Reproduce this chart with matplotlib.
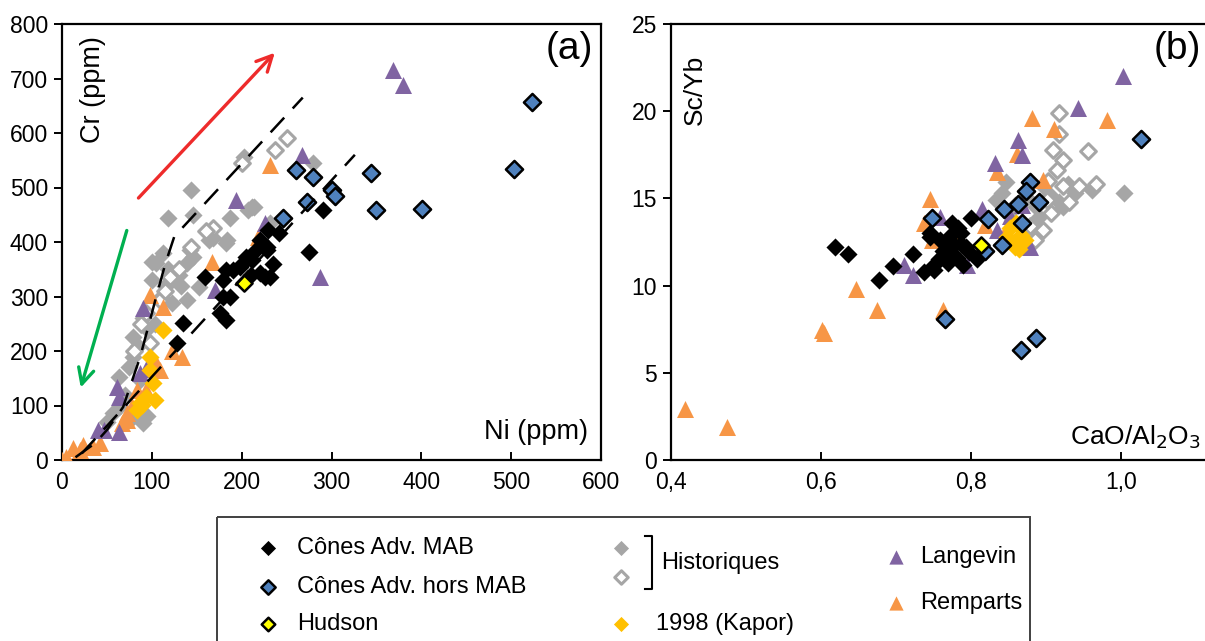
import matplotlib.pyplot as plt
from matplotlib.patches import Rectangle
import numpy as np

plt.rcParams['font.family'] = ['Liberation Sans', 'DejaVu Sans']

# ---- colours
C_MAB = '#000000'
C_HORS = '#4F81BD'
C_HUDSON = '#FFFF00'
C_HIST = '#A6A6A6'
C_KAPOR = '#FFC000'
C_LANG = '#8064A2'
C_REMP = '#F79646'

# ---- panel (a): Ni vs Cr (ppm)
mab_ni = [275, 290, 226, 159, 179, 176, 183, 198, 212, 228, 231, 220, 242, 135, 128, 190, 187,
          205, 216, 228, 229, 220, 179, 183, 200, 210, 235]
mab_cr = [382, 459, 336, 336, 330, 270, 257, 354, 367, 385, 336, 404, 416, 251, 215, 349, 300,
          373, 385, 391, 422, 343, 300, 349, 360, 340, 360]
hors_ni = [523, 503, 401, 349, 344, 261, 279, 301, 304, 273, 246]
hors_cr = [657, 534, 461, 459, 526, 532, 519, 495, 485, 473, 444]
hudson_ni = [203]
hudson_cr = [325]
hist_ni = [144, 118, 146, 187, 203, 212, 184, 168, 279, 207, 214, 231, 164, 139, 146, 112, 100, 123,
           105, 153, 123, 79, 79, 87, 64, 79, 90, 57, 139, 142, 183, 85, 95, 110, 130, 70, 75, 90,
           100, 115, 118, 85, 95, 50, 65, 103, 133]
hist_cr = [495, 444, 450, 444, 556, 464, 404, 407, 545, 459, 464, 435, 404, 361, 373, 380, 363, 330,
           361, 317, 288, 226, 189, 147, 152, 79, 68, 86, 294, 385, 398, 210, 240, 300, 340, 120, 170,
           260, 330, 320, 350, 90, 80, 70, 100, 250, 320]
histo_ni = [200, 237, 250, 168, 144, 120, 94, 98, 109, 130, 115, 88, 80, 160]
histo_cr = [545, 569, 591, 425, 391, 336, 270, 215, 294, 350, 310, 250, 200, 420]
kapor_ni = [112, 98, 101, 94, 87, 83, 98, 89, 104]
kapor_cr = [238, 189, 141, 116, 104, 92, 165, 101, 110]
lang_ni = [369, 380, 267, 287, 194, 226, 170, 90, 94, 87, 61, 64, 40, 47, 63]
lang_cr = [716, 688, 560, 336, 477, 435, 312, 278, 167, 159, 134, 116, 55, 55, 52]
remp_ni = [231, 218, 167, 98, 112, 123, 134, 109, 72, 35, 20, 5, 0, 42, 83, 72, 67, 12, 23, 105, 94, 78]
remp_cr = [541, 409, 363, 303, 281, 200, 189, 165, 73, 24, 18, 6, 0, 31, 128, 86, 68, 22, 28, 178, 128, 100]

# dashed trend curves
upper_ni = [15, 37, 50, 68, 87, 104, 115, 125, 268]
upper_cr = [5, 31, 55, 97, 189, 294, 360, 410, 665]
lower_ni = [22, 326]
lower_cr = [12, 560]

# arrows (Ni, Cr): start -> end
red_arrow = [(83, 477), (239, 751)]
green_arrow = [(73, 426), (20, 128)]

# ---- panel (b): CaO/Al2O3 vs Sc/Yb
mab_ca = [0.619, 0.636, 0.677, 0.696, 0.722, 0.737, 0.750, 0.769, 0.789, 0.797, 0.745, 0.770, 0.745,
          0.775, 0.800, 0.786, 0.758, 0.763, 0.777, 0.769, 0.787, 0.757, 0.781, 0.773, 0.793, 0.765,
          0.808, 0.751, 0.783]
mab_sc = [12.2, 11.8, 10.3, 11.1, 11.8, 10.8, 10.9, 11.3, 11.2, 11.9, 12.8, 12.6, 13.0, 13.6, 13.9,
          13.0, 12.6, 12.0, 12.3, 11.7, 12.4, 11.5, 11.6, 12.9, 12.2, 12.0, 11.5, 11.2, 13.3]
hors_ca = [1.026, 0.878, 0.873, 0.891, 0.862, 0.844, 0.868, 0.822, 0.748, 0.841, 0.819, 0.765, 0.866, 0.886]
hors_sc = [18.4, 15.95, 15.4, 14.8, 14.7, 14.4, 13.6, 13.8, 13.85, 12.35, 12.0, 8.1, 6.3, 7.0]
hudson_ca = [0.813]
hudson_sc = [12.3]
kapor_ca = [0.852, 0.860, 0.867, 0.856, 0.864, 0.872, 0.848, 0.858]
kapor_sc = [13.3, 13.6, 12.9, 12.4, 12.1, 12.6, 12.8, 12.2]
lang_ca = [1.002, 0.942, 0.862, 0.868, 0.832, 0.814, 0.835, 0.868, 0.758, 0.710, 0.723, 0.794, 0.878, 0.852]
lang_sc = [22.0, 20.2, 18.35, 17.5, 17.05, 14.4, 13.2, 14.6, 13.95, 11.2, 10.6, 11.2, 12.2, 14.0]
remp_ca = [0.881, 0.981, 0.910, 0.861, 0.835, 0.896, 0.745, 0.737, 0.819, 0.419, 0.475, 0.604, 0.601,
           0.646, 0.675, 0.763, 0.748, 0.781, 0.846]
remp_sc = [19.6, 19.5, 19.0, 17.55, 16.5, 16.05, 14.95, 13.6, 13.5, 2.9, 1.9, 7.3, 7.45, 9.8, 8.6, 8.6,
           12.6, 13.0, 13.2]
hist_ca = [0.846, 0.841, 0.833, 0.896, 1.004, 0.961, 0.939, 0.923, 0.890, 0.858, 0.875, 0.905, 0.917,
           0.852, 0.929, 0.887]
hist_sc = [15.95, 15.3, 14.9, 15.7, 15.3, 15.5, 15.3, 14.5, 13.95, 14.6, 15.0, 15.2, 14.8, 14.2, 15.8, 14.5]
histo_ca = [0.917, 0.917, 0.909, 0.923, 0.956, 0.914, 0.923, 0.944, 0.966, 0.901, 0.931, 0.906, 0.879,
            0.896, 0.885, 0.902]
histo_sc = [19.9, 18.7, 17.8, 17.2, 17.7, 16.6, 15.7, 15.7, 15.85, 14.9, 14.8, 14.15, 13.4, 13.2, 12.6, 16.0]

a_xticks = [0, 100, 200, 300, 400, 500, 600]
a_yticks = [0, 100, 200, 300, 400, 500, 600, 700, 800]
b_xticks = [0.4, 0.6, 0.8, 1.0]
b_xlabels = ['0,4', '0,6', '0,8', '1,0']
b_yticks = [0, 5, 10, 15, 20, 25]

DIA = 85
TRI = 150


def draw_groups(ax, groups):
    for xs, ys, style in groups:
        ax.scatter(xs, ys, **style)


S_HIST = dict(marker='D', s=DIA, color=C_HIST, linewidths=0, zorder=2)
S_HISTO = dict(marker='D', s=DIA * 0.75, facecolors='white', edgecolors=C_HIST, linewidths=2.2, zorder=3)
S_REMP = dict(marker='^', s=TRI, color=C_REMP, linewidths=0, zorder=4)
S_LANG = dict(marker='^', s=TRI, color=C_LANG, linewidths=0, zorder=5)
S_KAPOR = dict(marker='D', s=DIA, color=C_KAPOR, linewidths=0, zorder=6)
S_MAB = dict(marker='D', s=DIA, color=C_MAB, linewidths=0, zorder=7)
S_HORS = dict(marker='D', s=DIA * 0.9, facecolors=C_HORS, edgecolors='black', linewidths=1.8, zorder=8)
S_HUDSON = dict(marker='D', s=DIA * 0.8, facecolors=C_HUDSON, edgecolors='black', linewidths=1.8, zorder=9)

fig = plt.figure(figsize=(12.05, 6.41), dpi=100)
W, H = 1205, 641

# ---------------- panel (a)
ax1 = fig.add_axes([62 / W, (H - 460) / H, 539 / W, 436 / H])
draw_groups(ax1, [
    (hist_ni, hist_cr, S_HIST), (histo_ni, histo_cr, S_HISTO), (remp_ni, remp_cr, S_REMP),
    (lang_ni, lang_cr, S_LANG), (kapor_ni, kapor_cr, S_KAPOR), (mab_ni, mab_cr, S_MAB),
    (hors_ni, hors_cr, S_HORS), (hudson_ni, hudson_cr, S_HUDSON),
])
ax1.plot(upper_ni, upper_cr, color='black', lw=1.8, dashes=(8, 5), zorder=10)
ax1.plot(lower_ni, lower_cr, color='black', lw=1.8, dashes=(8, 5), zorder=10)
ax1.annotate('', xy=red_arrow[1], xytext=red_arrow[0],
             arrowprops=dict(arrowstyle='->', color='#EE2B2B', lw=2.4, mutation_scale=28))
ax1.annotate('', xy=green_arrow[1], xytext=green_arrow[0],
             arrowprops=dict(arrowstyle='->', color='#00B050', lw=2.4, mutation_scale=28))
ax1.set_xlim(0, 600)
ax1.set_ylim(0, 800)
ax1.set_xticks(a_xticks)
ax1.set_yticks(a_yticks)
ax1.text(0.058, 0.85, 'Cr (ppm)', transform=ax1.transAxes, rotation=90, ha='center', va='center',
         fontsize=19.5)
ax1.text(0.975, 0.065, 'Ni (ppm)', transform=ax1.transAxes, ha='right', va='center', fontsize=19.5)
ax1.text(0.985, 0.942, '(a)', transform=ax1.transAxes, ha='right', va='center', fontsize=28)

# ---------------- panel (b)
ax2 = fig.add_axes([671 / W, (H - 460) / H, 600 / W, 436 / H])
draw_groups(ax2, [
    (hist_ca, hist_sc, S_HIST), (histo_ca, histo_sc, S_HISTO), (remp_ca, remp_sc, S_REMP),
    (lang_ca, lang_sc, S_LANG), (kapor_ca, kapor_sc, S_KAPOR), (mab_ca, mab_sc, S_MAB),
    (hors_ca, hors_sc, S_HORS), (hudson_ca, hudson_sc, S_HUDSON),
])
ax2.set_xlim(0.4, 1.2)
ax2.set_ylim(0, 25)
ax2.set_xticks(b_xticks)
ax2.set_xticklabels(b_xlabels)
ax2.set_yticks(b_yticks)
ax2.spines['right'].set_visible(False)
ax2.text(0.04, 0.85, 'Sc/Yb', transform=ax2.transAxes, rotation=90, ha='center', va='center',
         fontsize=19)
fig.text(1201 / W, (H - 437) / H, 'CaO/Al$_2$O$_3$', ha='right', va='center', fontsize=19)
fig.text(1201 / W, (H - 49) / H, '(b)', ha='right', va='center', fontsize=28)

for ax in (ax1, ax2):
    for sp in ax.spines.values():
        sp.set_linewidth(1.6)
    ax.tick_params(axis='y', direction='out', length=6, width=1.4, labelsize=16.5, pad=4)
    ax.tick_params(axis='x', direction='in', length=6, width=1.4, labelsize=16.5, pad=8)

# ---------------- legend (drawn in pixel space)
lg = fig.add_axes([0, 0, 1, 1], zorder=20)
lg.set_xlim(0, W)
lg.set_ylim(H, 0)
lg.axis('off')
lg.add_patch(Rectangle((217, 517), 813, 140, fill=False, edgecolor='#404040', lw=1.4))

legend_rows = [
    (268, 548, 'Cônes Adv. MAB', 297, S_MAB),
    (268, 587, 'Cônes Adv. hors MAB', 297, S_HORS),
    (268, 624, 'Hudson', 297, S_HUDSON),
    (621, 624, '1998 (Kapor)', 656, S_KAPOR),
    (896, 557, 'Langevin', 920, S_LANG),
    (896, 603, 'Remparts', 920, S_REMP),
]
for mx, my, label, tx, style in legend_rows:
    st = dict(style)
    st['s'] = st['s'] * 0.7
    st['zorder'] = 21
    lg.scatter([mx], [my], **st)
    lg.text(tx, my, label, ha='left', va='center', fontsize=17)

st = dict(S_HIST); st['s'] = DIA * 0.7
lg.scatter([621], [548], **st)
st = dict(S_HISTO); st['s'] = DIA * 0.55
lg.scatter([621], [577], **st)
lg.plot([645, 652, 652, 645], [536, 536, 589, 589], color='black', lw=1.5)
lg.text(661, 563, 'Historiques', ha='left', va='center', fontsize=17)

fig.savefig('out.png', dpi=100)
